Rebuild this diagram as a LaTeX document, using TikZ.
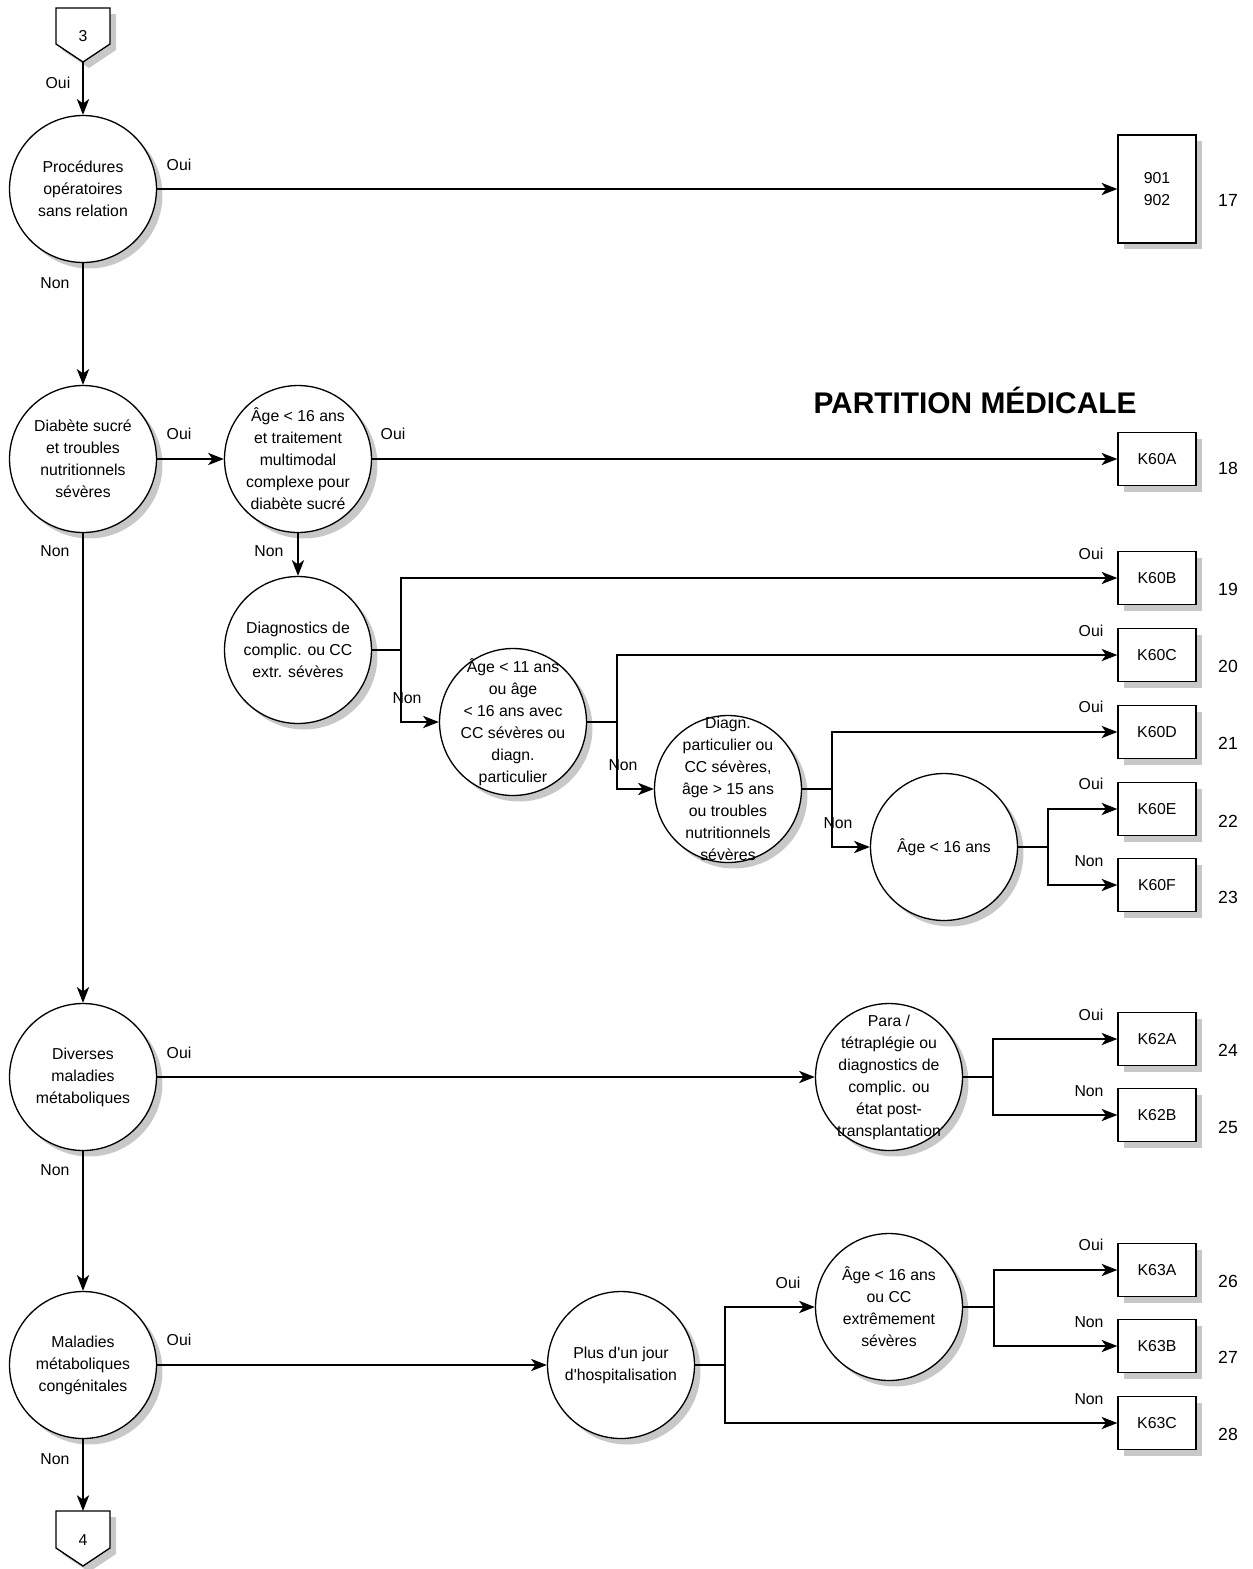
\documentclass[tikz,border=0pt]{standalone}
\usepackage{fontspec}
\setmainfont{Liberation Sans}[Ligatures=TeXOff]
\usetikzlibrary{arrows.meta,shadows}
\definecolor{shd}{RGB}{200,200,200}
\tikzset{
  arr/.style={-{Stealth[length=9pt,width=7pt,inset=2.5pt]}},
  ln/.style={line width=0.75pt},
  shadowed/.style={drop shadow={shadow xshift=0.12cm,shadow yshift=-0.12cm,opacity=1,fill=shd}},
  dec/.style={circle,draw,ln,fill=white,shadowed,minimum size=2.94cm,inner sep=0pt},
  txt/.style={inner sep=0pt,align=center,font=\fontsize{9}{12.5}\selectfont},
  leaf/.style={rectangle,draw,ln,fill=white,shadowed,minimum width=1.56cm,minimum height=1.06cm,inner sep=0pt,align=center,font=\fontsize{9}{12.5}\selectfont},
  lbl/.style={inner sep=0pt,font=\fontsize{9}{11}\selectfont},
  num/.style={inner sep=0pt,font=\fontsize{10}{12}\selectfont},
}
\begin{document}
\begin{tikzpicture}[x=0.02cm,y=-0.02cm]
\useasboundingbox (0,0) rectangle (1253,1569);
% connectors
\fill[shd] (62,14)--(116,14)--(116,50)--(89,68)--(62,50)--cycle;
\draw[ln,fill=white] (56,8)--(110,8)--(110,44)--(83,62)--(56,44)--cycle;
\node[lbl] (c3) at (83,36) {3};
\coordinate (c3tip) at (83,62);
\fill[shd] (62,1517)--(116,1517)--(116,1554)--(89,1572)--(62,1554)--cycle;
\draw[ln,fill=white] (56,1511)--(110,1511)--(110,1548)--(83,1566)--(56,1548)--cycle;
\node[lbl] (c4) at (83,1540) {4};
\coordinate (c4top) at (83,1511);

% title
\node[inner sep=0pt,font=\fontsize{17}{20}\bfseries\selectfont] (title) at (975,400) {PARTITION MÉDICALE};

% decision circles
\node[dec] (p1) at (83,189) {};
\node[txt] (p1t) at (p1) {Procédures\\opératoires\\sans relation};
\node[dec] (p2) at (83,459) {};
\node[txt] (p2t) at (p2) {Diabète sucré\\et troubles\\nutritionnels\\sévères};
\node[dec] (p3) at (298,459) {};
\node[txt] (p3t) at (p3) {Âge < 16 ans\\et traitement\\multimodal\\complexe pour\\diabète sucré};
\node[dec] (p4) at (298,650) {};
\node[txt] (p4t) at (p4) {Diagnostics de\\complic. ou CC\\extr. sévères};
\node[dec] (p5) at (513,722) {};
\node[txt] (p5t) at (p5) {Âge < 11 ans\\ou âge\\< 16 ans avec\\CC sévères ou\\diagn.\\particulier};
\node[dec] (p6) at (728,789) {};
\node[txt] (p6t) at (p6) {Diagn.\\particulier ou\\CC sévères,\\âge > 15 ans\\ou troubles\\nutritionnels\\sévères};
\node[dec] (p7) at (944,847) {};
\node[txt] (p7t) at (p7) {Âge < 16 ans};
\node[dec] (p8) at (83,1077) {};
\node[txt] (p8t) at (p8) {Diverses\\maladies\\métaboliques};
\node[dec] (p9) at (889,1077) {};
\node[txt] (p9t) at (p9) {Para /\\tétraplégie ou\\diagnostics de\\complic. ou\\état post-\\transplantation};
\node[dec] (p10) at (83,1365) {};
\node[txt] (p10t) at (p10) {Maladies\\métaboliques\\congénitales};
\node[dec] (p11) at (621,1365) {};
\node[txt] (p11t) at (p11) {Plus d'un jour\\d'hospitalisation};
\node[dec] (p12) at (889,1307) {};
\node[txt] (p12t) at (p12) {Âge < 16 ans\\ou CC\\extrêmement\\sévères};

% leaves
\node[leaf,minimum height=2.16cm] (b901) at (1157,189) {901\\902};
\node[leaf] (K60A) at (1157,459) {K60A};
\node[leaf] (K60B) at (1157,578) {K60B};
\node[leaf] (K60C) at (1157,655) {K60C};
\node[leaf] (K60D) at (1157,732) {K60D};
\node[leaf] (K60E) at (1157,809) {K60E};
\node[leaf] (K60F) at (1157,885) {K60F};
\node[leaf] (K62A) at (1157,1039) {K62A};
\node[leaf] (K62B) at (1157,1115) {K62B};
\node[leaf] (K63A) at (1157,1270) {K63A};
\node[leaf] (K63B) at (1157,1346) {K63B};
\node[leaf] (K63C) at (1157,1423) {K63C};

% numbers
\node[num] (n17) at (1228,200) {17};
\node[num] (n18) at (1228,468) {18};
\node[num] (n19) at (1228,589) {19};
\node[num] (n20) at (1228,666) {20};
\node[num] (n21) at (1228,743) {21};
\node[num] (n22) at (1228,821) {22};
\node[num] (n23) at (1228,897) {23};
\node[num] (n24) at (1228,1050) {24};
\node[num] (n25) at (1228,1127) {25};
\node[num] (n26) at (1228,1281) {26};
\node[num] (n27) at (1228,1357) {27};
\node[num] (n28) at (1228,1434) {28};

% connectors (edges)
\draw[ln,arr] (c3tip) -- (p1.north);
\draw[ln,arr] (p1.east) -- (b901.west);
\draw[ln,arr] (p1.south) -- (p2.north);
\draw[ln,arr] (p2.east) -- (p3.west);
\draw[ln,arr] (p3.east) -- (K60A.west);
\draw[ln,arr] (p3.south) -- (p4.north);
\draw[ln] (p4.east) -- ++(29,0) coordinate (j4);
\draw[ln,arr] (j4) |- (K60B.west);
\draw[ln,arr] (j4) |- (p5.west);
\draw[ln] (p5.east) -- ++(30,0) coordinate (j5);
\draw[ln,arr] (j5) |- (K60C.west);
\draw[ln,arr] (j5) |- (p6.west);
\draw[ln] (p6.east) -- ++(30,0) coordinate (j6);
\draw[ln,arr] (j6) |- (K60D.west);
\draw[ln,arr] (j6) |- (p7.west);
\draw[ln] (p7.east) -- ++(30,0) coordinate (j7);
\draw[ln,arr] (j7) |- (K60E.west);
\draw[ln,arr] (j7) |- (K60F.west);
\draw[ln,arr] (p2.south) -- (p8.north);
\draw[ln,arr] (p8.east) -- (p9.west);
\draw[ln] (p9.east) -- ++(30,0) coordinate (j9);
\draw[ln,arr] (j9) |- (K62A.west);
\draw[ln,arr] (j9) |- (K62B.west);
\draw[ln,arr] (p8.south) -- (p10.north);
\draw[ln,arr] (p10.east) -- (p11.west);
\draw[ln] (p11.east) -- ++(30,0) coordinate (j11);
\draw[ln,arr] (j11) |- (p12.west);
\draw[ln,arr] (j11) |- (K63C.west);
\draw[ln] (p12.east) -- ++(31,0) coordinate (j12);
\draw[ln,arr] (j12) |- (K63A.west);
\draw[ln,arr] (j12) |- (K63B.west);
\draw[ln,arr] (p10.south) -- (c4top);

% labels
\node[lbl] (l1) at (58,83) {Oui};
\node[lbl] (l2) at (179,165) {Oui};
\node[lbl] (l3) at (55,283) {Non};
\node[lbl] (l4) at (179,434) {Oui};
\node[lbl] (l5) at (55,551) {Non};
\node[lbl] (l6) at (393,434) {Oui};
\node[lbl] (l7) at (269,551) {Non};
\node[lbl] (l8) at (1091,554) {Oui};
\node[lbl] (l9) at (407,698) {Non};
\node[lbl] (l10) at (1091,631) {Oui};
\node[lbl] (l11) at (623,765) {Non};
\node[lbl] (l12) at (1091,707) {Oui};
\node[lbl] (l13) at (838,823) {Non};
\node[lbl] (l14) at (1091,784) {Oui};
\node[lbl] (l15) at (1089,861) {Non};
\node[lbl] (l16) at (179,1053) {Oui};
\node[lbl] (l17) at (1091,1015) {Oui};
\node[lbl] (l18) at (1089,1091) {Non};
\node[lbl] (l19) at (55,1170) {Non};
\node[lbl] (l20) at (179,1340) {Oui};
\node[lbl] (l21) at (788,1283) {Oui};
\node[lbl] (l22) at (1091,1245) {Oui};
\node[lbl] (l23) at (1089,1322) {Non};
\node[lbl] (l24) at (1089,1399) {Non};
\node[lbl] (l25) at (55,1459) {Non};
\end{tikzpicture}
\end{document}
